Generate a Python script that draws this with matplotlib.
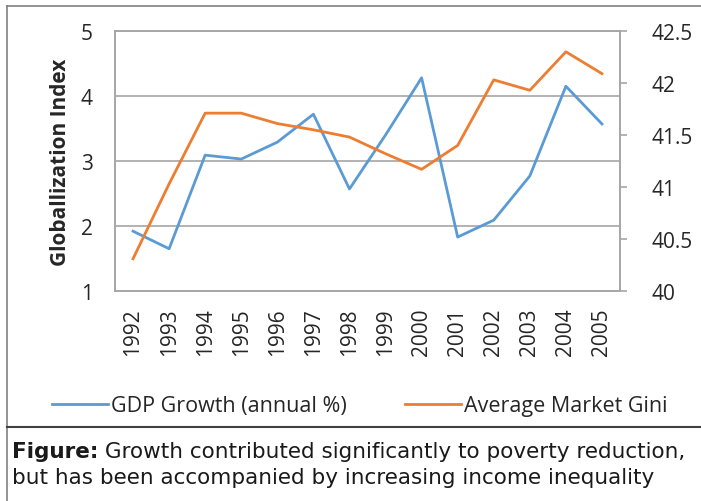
import matplotlib
matplotlib.use('Agg')
import matplotlib.pyplot as plt
from matplotlib.lines import Line2D

plt.rcParams['font.family'] = ['Open Sans', 'DejaVu Sans']

# data
years = ['1992', '1993', '1994', '1995', '1996', '1997', '1998',
         '1999', '2000', '2001', '2002', '2003', '2004', '2005']
gdp_growth = [1.92, 1.65, 3.09, 3.03, 3.29, 3.72, 2.57,
              3.40, 4.28, 1.83, 2.09, 2.77, 4.15, 3.57]
market_gini = [40.31, 41.03, 41.71, 41.71, 41.61, 41.55, 41.48,
               41.32, 41.17, 41.40, 42.03, 41.93, 42.30, 42.09]
left_ticks = [1, 2, 3, 4, 5]
right_ticks = [40, 40.5, 41, 41.5, 42, 42.5]
right_labels = ['40', '40.5', '41', '41.5', '42', '42.5']

blue = '#5B9BD5'
orange = '#ED7D31'
grid_col = '#A6A6A6'
txt = '#262626'

fig = plt.figure(figsize=(7.01, 5.02), dpi=100)
ax = fig.add_axes([115/701, 210/502, 505/701, 260/502])
ax2 = ax.twinx()

x = list(range(len(years)))
ax.plot(x, gdp_growth, color=blue, lw=2.0, solid_joinstyle='round')
ax2.plot(x, market_gini, color=orange, lw=2.0, solid_joinstyle='round')

ax.set_xlim(-0.5, len(years) - 0.5)
ax.set_ylim(1, 5)
ax2.set_ylim(40, 42.5)

ax.set_yticks(left_ticks)
ax.set_yticklabels([str(t) for t in left_ticks])
ax2.set_yticks(right_ticks)
ax2.set_yticklabels(right_labels)
ax.set_xticks(x)
ax.set_xticklabels(years, rotation=90)

ax.yaxis.grid(True, color=grid_col, lw=1.2)
ax.set_axisbelow(True)

for a in (ax, ax2):
    for s in a.spines.values():
        s.set_color(grid_col)
        s.set_linewidth(1.2)

ax.tick_params(axis='y', length=0, pad=16, labelsize=15, labelcolor=txt)
ax.tick_params(axis='x', length=0, pad=12, labelsize=15, labelcolor=txt)
ax2.tick_params(axis='y', length=5, width=1.2, color=grid_col, direction='out',
                pad=17.5, labelsize=15, labelcolor=txt)

ax.set_ylabel('Globallization Index', fontsize=15, fontweight='bold',
              color=txt, labelpad=7)

handles = [Line2D([], [], color=blue, lw=2.0),
           Line2D([], [], color=orange, lw=2.0)]
fig.legend(handles, ['GDP Growth (annual %)', 'Average Market Gini'],
           loc='center', bbox_to_anchor=(360/701, 1 - 407/502), ncol=2,
           frameon=False, fontsize=15.5, handlelength=2.6, handletextpad=0.15,
           columnspacing=2.7, labelcolor=txt)

# outer frame and caption separator
frame_col = '#808080'
fig.add_artist(Line2D([7/701, 1], [1 - 7/502, 1 - 7/502], color=frame_col, lw=1.2))
fig.add_artist(Line2D([7/701, 7/701], [0, 1 - 7/502], color=frame_col, lw=1.2))
fig.add_artist(Line2D([7/701, 1], [1 - 428/502, 1 - 428/502], color='#404040', lw=1.5))

cap_font = ['DejaVu Sans']
bold = fig.text(12/701, 1 - 452/502, 'Figure:', fontsize=15.5, fontweight='bold',
                family=cap_font, color='#1a1a1a', va='center')
fig.text(12/701, 1 - 478/502,
         'but has been accompanied by increasing income inequality',
         fontsize=15.5, family=cap_font, color='#1a1a1a', va='center')
ax.annotate(' Growth contributed significantly to poverty reduction,',
            xy=(1, 0.5), xycoords=bold, va='center', ha='left',
            fontsize=15.5, family=cap_font, color='#1a1a1a',
            annotation_clip=False)

fig.savefig('out.png', dpi=100)
